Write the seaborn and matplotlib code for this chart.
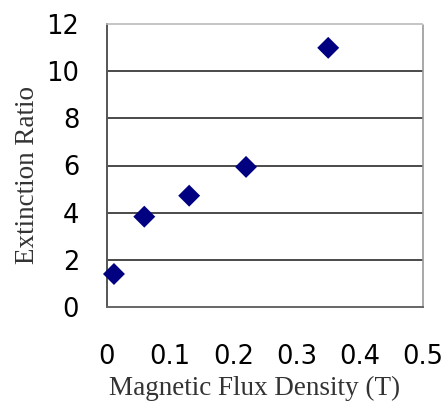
import matplotlib
matplotlib.use("Agg")
import matplotlib.pyplot as plt
import seaborn as sns
import pandas as pd

# Measured extinction ratio versus applied magnetic flux density
flux_density = [0.011, 0.059, 0.13, 0.22, 0.35]
extinction_ratio = [1.4, 3.83, 4.72, 5.94, 10.99]
x_ticks = [0, 0.1, 0.2, 0.3, 0.4, 0.5]
x_tick_labels = ["0", "0.1", "0.2", "0.3", "0.4", "0.5"]
y_ticks = [0, 2, 4, 6, 8, 10, 12]

df = pd.DataFrame({"B": flux_density, "ER": extinction_ratio})

sns.set_theme(style="white")
plt.rcParams["font.family"] = ["DejaVu Sans"]

fig = plt.figure(figsize=(4.45, 4.05), dpi=100)
ax = fig.add_axes([107 / 445, 1 - 307 / 405, (423 - 107) / 445, (307 - 24) / 405])

ax.set_xlim(0, 0.5)
ax.set_ylim(0, 12)

# horizontal grid lines
for y in y_ticks[1:-1]:
    ax.axhline(y, color="#4a4a4a", lw=1.4, zorder=1)

sns.scatterplot(data=df, x="B", y="ER", marker="D", s=125, color="#000080",
                edgecolor="none", ax=ax, zorder=3, clip_on=False)

ax.set_xticks(x_ticks)
ax.set_xticklabels(x_tick_labels)
ax.set_yticks(y_ticks)
ax.tick_params(axis="x", direction="in", length=7, width=1.2, color="#444444",
               pad=27, labelsize=18.5, labelcolor="#000000")
ax.tick_params(axis="y", direction="out", length=0, pad=20, labelsize=18.5,
               labelcolor="#000000")
ax.tick_params(axis="x", top=False)

ax.spines["left"].set_color("#555555")
ax.spines["left"].set_linewidth(1.4)
ax.spines["bottom"].set_color("#666666")
ax.spines["bottom"].set_linewidth(1.4)
ax.spines["top"].set_color("#bbbbbb")
ax.spines["top"].set_linestyle((0, (1, 1)))
ax.spines["top"].set_linewidth(1.2)
ax.spines["right"].set_color("#999999")
ax.spines["right"].set_linestyle((0, (1, 1)))
ax.spines["right"].set_linewidth(1.2)

serif = ["Liberation Serif", "DejaVu Serif"]
ax.set_xlabel("Magnetic Flux Density (T)", family=serif, fontsize=19.5,
              color="#333333", va="center")
ax.set_ylabel("Extinction Ratio", family=serif, fontsize=19.5, color="#333333",
              va="center")
ax.xaxis.set_label_coords((255 - 107) / (423 - 107), -(388 - 307) / (307 - 24))
ax.yaxis.set_label_coords(-(107 - 28) / (423 - 107), (307 - 175) / (307 - 24))

fig.savefig("out.png", dpi=100)
